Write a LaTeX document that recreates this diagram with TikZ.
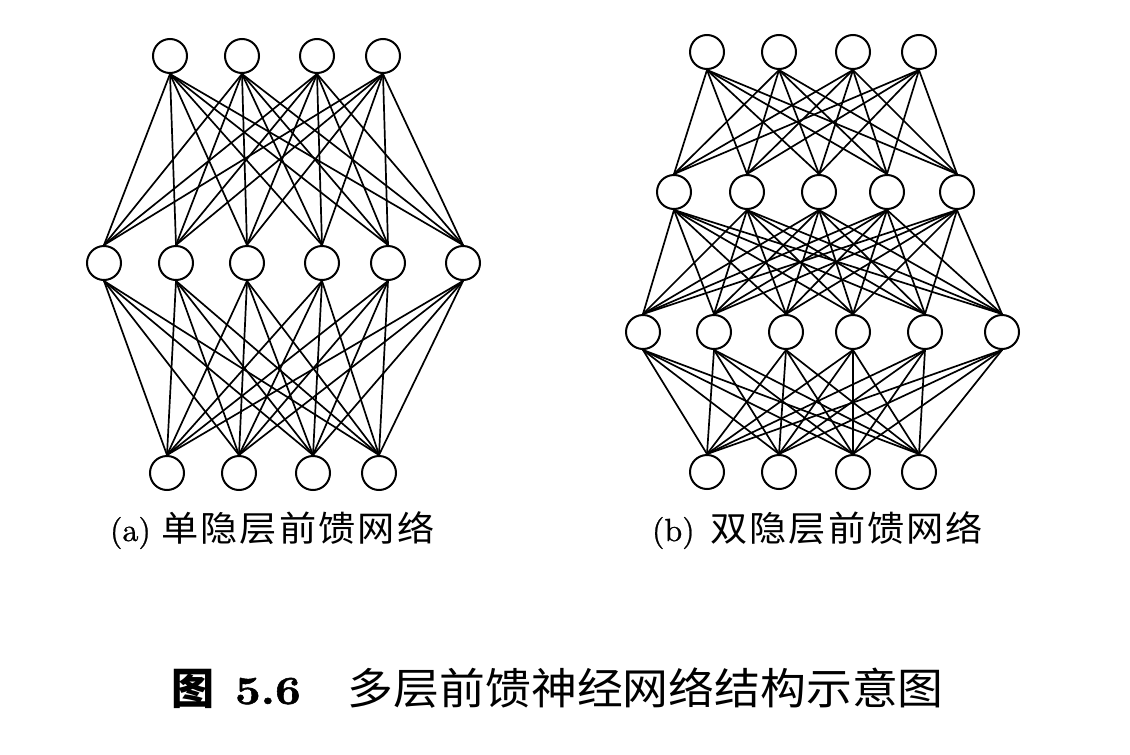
\documentclass[tikz,border=0pt]{standalone}
\usepackage{fontspec}
\usepackage{graphicx}
\newfontfamily\cjk{Noto Sans CJK SC}
\newfontfamily\lmthick{lmroman10-regular.otf}[FakeBold=0.8]
\newfontfamily\lmheavy{lmroman10-bold.otf}[FakeBold=1.2]
\tikzset{
  neuron/.style={circle, draw=black, fill=white, line width=2pt, minimum size=34pt, inner sep=0pt},
  edge/.style={draw=black, line width=1.7pt, line cap=round},
  txt/.style={inner sep=0pt, outer sep=0pt, text=black}
}
\begin{document}
\begin{tikzpicture}[x=1pt, y=-1pt]
\useasboundingbox (0,0) rectangle (1130,755);
\fill[white] (0,0) rectangle (1130,755);

% ---------- (a) single hidden layer ----------
\foreach \x [count=\i] in {170,242,317,383} \node[neuron] (at\i) at (\x,56) {};
\foreach \x [count=\i] in {104,176,247,322,388,463} \node[neuron] (am\i) at (\x,263) {};
\foreach \x [count=\i] in {167,239,313,379} \node[neuron] (ab\i) at (\x,473) {};
\foreach \i in {1,...,4} \foreach \j in {1,...,6} \draw[edge] (at\i.south) -- (am\j.north);
\foreach \i in {1,...,6} \foreach \j in {1,...,4} \draw[edge] (am\i.south) -- (ab\j.north);

% ---------- (b) two hidden layers ----------
\foreach \x [count=\i] in {707,779,853,919} \node[neuron] (bt\i) at (\x,52) {};
\foreach \x [count=\i] in {674,747,819,887,957} \node[neuron] (bh\i) at (\x,192) {};
\foreach \x [count=\i] in {643,714,786,853,925,1002} \node[neuron] (bk\i) at (\x,332) {};
\foreach \x [count=\i] in {707,779,853,919} \node[neuron] (bb\i) at (\x,472) {};
\foreach \i in {1,...,4} \foreach \j in {1,...,5} \draw[edge] (bt\i.south) -- (bh\j.north);
\foreach \i in {1,...,5} \foreach \j in {1,...,6} \draw[edge] (bh\i.south) -- (bk\j.north);
\foreach \i in {1,...,6} \foreach \j in {1,...,4} \draw[edge] (bk\i.south) -- (bb\j.north);

% ---------- captions ----------
\node[txt, anchor=base west] (capa) at (110,541) {\fontsize{32}{36}\lmthick (a)\kern10.5pt\resizebox{273pt}{\height}{\fontsize{35}{40}\selectfont\cjk 单\kern2pt 隐\kern2pt 层\kern2pt 前\kern2pt 馈\kern2pt 网\kern2pt 络}};
\node[txt, anchor=base west] (capb) at (652,541) {\fontsize{32}{36}\lmthick (b)\kern15.5pt\resizebox{273pt}{\height}{\fontsize{35}{40}\selectfont\cjk 双\kern2pt 隐\kern2pt 层\kern2pt 前\kern2pt 馈\kern2pt 网\kern2pt 络}};

% ---------- title ----------
\node[txt, anchor=base west] (title) at (171,704) {{\fontsize{43}{48}\selectfont\cjk\bfseries 图}\kern21pt\scalebox{1.12}[1]{\fontsize{40}{44}\lmheavy 5.6}\kern47pt\resizebox{596pt}{\height}{\fontsize{43}{48}\selectfont\cjk 多层前馈神经网络结构示意图}};
\end{tikzpicture}
\end{document}
